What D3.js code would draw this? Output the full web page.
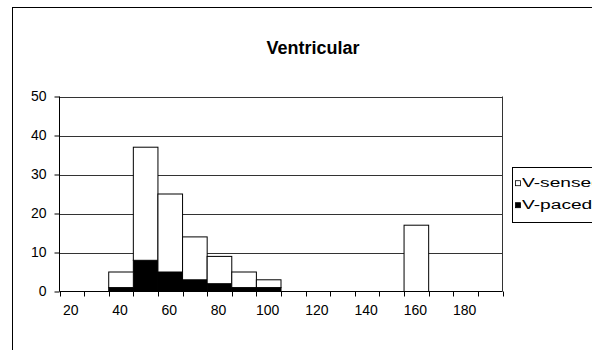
<!DOCTYPE html>
<html>
<head>
<meta charset="utf-8">
<script src="https://cdn.jsdelivr.net/npm/d3@7"></script>
<style>
  html, body { margin: 0; padding: 0; background: #fff; }
  svg { display: block; font-family: "Liberation Sans", Arial, sans-serif; }
</style>
</head>
<body>
<svg id="chart" width="592" height="350"></svg>
<script>
const title = "Ventricular";
const categories = [20, 30, 40, 50, 60, 70, 80, 90, 100, 110, 120, 130, 140, 150, 160, 170, 180, 190];
const paced  = [0, 0, 1, 8, 5, 3, 2, 1, 1, 0, 0, 0, 0, 0, 0, 0, 0, 0];
const sensed = [0, 0, 4, 29, 20, 11, 7, 4, 2, 0, 0, 0, 0, 0, 17, 0, 0, 0];
const yTicks = [0, 10, 20, 30, 40, 50];
const seriesNames = ["V-sensed", "V-paced"];

const svg = d3.select("#chart");
const m = { left: 59.5, right: 502.5, top: 96.5, bottom: 291.5 };

// outer chart border
svg.append("rect").attr("x", 12.5).attr("y", 7.5).attr("width", 620).attr("height", 400)
  .attr("fill", "none").attr("stroke", "#000").attr("stroke-width", 1);

const x = d3.scaleBand().domain(categories).range([m.left, m.right]).padding(0);
const y = d3.scaleLinear().domain([0, 50]).range([m.bottom, m.top]);

// gridlines
svg.append("g").selectAll("line").data(yTicks.filter(d => d > 0)).join("line")
  .attr("x1", m.left).attr("x2", m.right)
  .attr("y1", d => Math.round(y(d)) + 0.5).attr("y2", d => Math.round(y(d)) + 0.5)
  .attr("stroke", "#333").attr("stroke-width", 1);

// right border of plot area
svg.append("line").attr("x1", m.right).attr("x2", m.right).attr("y1", m.top).attr("y2", m.bottom)
  .attr("stroke", "#333");

// stacked data
const data = categories.map((c, i) => ({ cat: c, paced: paced[i], sensed: sensed[i] }));
const stack = d3.stack().keys(["paced", "sensed"])(data);
const fills = { paced: "#000", sensed: "#fff" };

svg.append("g").selectAll("g").data(stack).join("g")
  .attr("fill", d => fills[d.key])
  .selectAll("rect").data(d => d.filter(p => p[1] - p[0] > 0)).join("rect")
  .attr("x", d => x(d.data.cat))
  .attr("width", x.bandwidth())
  .attr("y", d => y(d[1]))
  .attr("height", d => y(d[0]) - y(d[1]))
  .attr("stroke", "#000").attr("stroke-width", 1);

// y axis
const yAxis = d3.axisLeft(y).tickValues(yTicks).tickSize(5).tickPadding(8);
const gy = svg.append("g").attr("transform", `translate(${m.left},0)`).call(yAxis);
gy.select(".domain").attr("stroke", "#000").attr("d", `M0,${m.top}V${m.bottom}`);
gy.selectAll(".tick line").attr("stroke", "#000");
gy.selectAll("text").attr("font-size", 14).attr("fill", "#000")
  .attr("font-family", "Liberation Sans, Arial, sans-serif");

// x axis: ticks at band boundaries, labels every other category
const gx = svg.append("g").attr("transform", `translate(0,${m.bottom})`);
gx.append("line").attr("x1", m.left).attr("x2", m.right).attr("y1", 0).attr("y2", 0).attr("stroke", "#000");
const bounds = categories.map(c => x(c)).concat([m.right]);
gx.selectAll("line.tk").data(bounds).join("line").attr("class", "tk")
  .attr("x1", d => Math.round(d) + 0.5).attr("x2", d => Math.round(d) + 0.5)
  .attr("y1", 0).attr("y2", 5).attr("stroke", "#000");
gx.selectAll("text").data(categories.filter((c, i) => i % 2 === 0)).join("text")
  .attr("x", d => x(d) + x.bandwidth() / 2 - 1)
  .attr("y", 23.5)
  .attr("text-anchor", "middle")
  .attr("font-size", 14).attr("fill", "#000")
  .text(d => d);

// title
svg.append("text").attr("x", 313).attr("y", 54).attr("text-anchor", "middle")
  .attr("font-size", 18).attr("font-weight", "bold").attr("fill", "#000").text(title);

// legend
const lg = svg.append("g");
lg.append("rect").attr("x", 512.5).attr("y", 167.5).attr("width", 100).attr("height", 55)
  .attr("fill", "#fff").attr("stroke", "#000");
const legendFills = ["#fff", "#000"];
seriesNames.forEach((name, i) => {
  const base = 186.7 + i * 22;
  lg.append("rect").attr("x", 515.5).attr("y", base - 6).attr("width", 5).attr("height", 5)
    .attr("fill", legendFills[i]).attr("stroke", "#000").attr("stroke-width", 0.8);
  lg.append("text").attr("transform", `translate(522,${base}) scale(1.42,1)`)
    .attr("font-size", 13.5).attr("fill", "#000").text(name);
});
</script>
</body>
</html>
